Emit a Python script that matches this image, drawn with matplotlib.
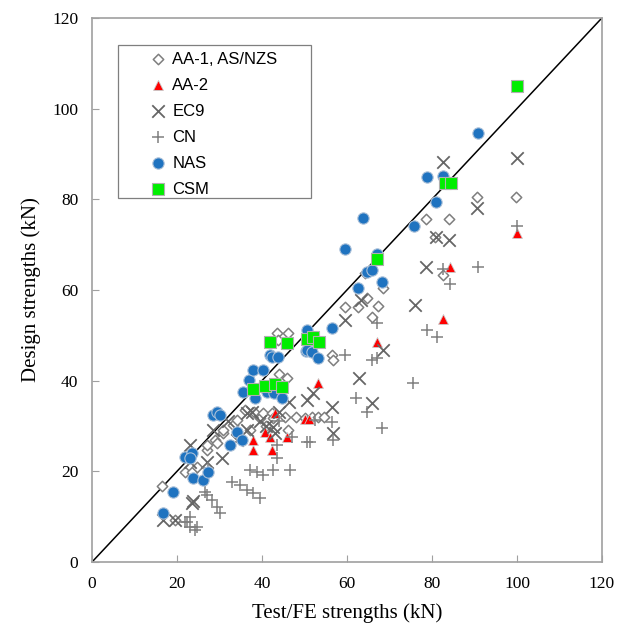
import matplotlib.pyplot as plt
from matplotlib.patches import Rectangle

# Data (Test/FE strength, design strength), kN
aa1_x = [16.5, 19.5, 21.9, 23.5, 24.7, 27.0, 27.0, 28.9, 29.4, 30.8, 30.8, 33.1, 34.1, 36.0,
         37.1, 38.0, 39.5, 40.3, 41.0, 42.4, 42.6, 43.5, 43.8, 44.0, 45.4, 45.8, 46.0, 46.0,
         48.0, 50.0, 51.8, 53.2, 54.7, 56.4, 56.7, 59.5, 62.6, 64.2, 64.6, 66.0, 67.2, 68.4,
         78.7, 80.7, 82.5, 84.0, 90.5, 99.7, 100.0]
aa1_y = [16.8, 9.3, 19.9, 19.9, 21.0, 24.7, 25.8, 26.9, 26.3, 28.5, 29.1, 30.2, 31.3, 33.5,
         29.1, 33.0, 31.8, 32.9, 30.0, 32.9, 31.8, 50.5, 49.0, 41.5, 32.0, 40.6, 29.1, 50.6,
         32.0, 31.8, 32.0, 32.0, 32.0, 45.7, 44.6, 56.3, 56.3, 63.8, 58.3, 54.1, 56.5, 60.5,
         75.7, 71.7, 63.4, 75.7, 80.5, 80.5, 105.0]

aa2_x = [37.9, 37.9, 40.7, 41.9, 42.4, 43.0, 45.8, 50.0, 51.0, 53.2, 67.0, 82.6, 84.2, 100.0]
aa2_y = [24.7, 26.9, 28.7, 27.6, 24.7, 32.9, 27.6, 31.5, 31.5, 39.5, 48.5, 53.6, 65.1, 72.6]

ec9_x = [16.7, 19.5, 23.0, 23.0, 23.5, 23.8, 27.0, 28.5, 30.5, 32.0, 34.1, 36.4, 36.4, 37.6,
         39.5, 41.0, 42.5, 43.0, 44.0, 46.4, 50.7, 51.9, 56.4, 56.6, 59.5, 62.9, 63.4, 66.0,
         68.4, 75.9, 78.7, 81.0, 82.5, 84.0, 90.7, 100.0]
ec9_y = [9.3, 9.3, 25.8, 22.0, 13.0, 13.5, 22.0, 29.1, 23.0, 31.0, 26.9, 29.1, 32.9, 33.1,
         31.0, 30.0, 29.8, 28.5, 33.0, 35.3, 35.8, 37.3, 34.2, 28.5, 53.4, 40.6, 57.8, 35.1,
         46.8, 56.7, 65.1, 71.7, 88.3, 71.0, 78.0, 89.1]

cn_x = [21.9, 22.3, 23.0, 23.0, 24.2, 24.7, 26.6, 27.0, 27.3, 28.2, 29.4, 30.1, 32.9, 34.8,
        36.4, 37.8, 39.5, 37.1, 38.7, 40.2, 42.5, 43.5, 43.5, 44.0, 46.5, 47.0, 50.5, 51.2,
        52.5, 56.4, 56.6, 59.5, 62.2, 64.6, 66.0, 67.0, 67.0, 68.2, 75.5, 78.8, 81.2, 82.5,
        84.2, 90.8, 100.0]
cn_y = [8.8, 8.8, 9.9, 7.7, 7.1, 7.7, 15.5, 14.8, 20.8, 13.7, 12.1, 10.8, 17.7, 17.0,
        15.9, 15.2, 14.1, 20.3, 19.9, 19.2, 20.3, 23.0, 25.8, 31.0, 20.3, 27.5, 26.5, 26.5,
        31.2, 30.9, 26.9, 45.7, 36.2, 33.1, 44.6, 52.8, 45.0, 29.6, 39.5, 51.2, 49.7, 64.7,
        61.4, 65.0, 74.0]

nas_x = [16.7, 19.0, 21.9, 23.5, 23.1, 23.8, 26.1, 27.3, 28.5, 29.4, 30.1, 32.5, 34.1, 35.3,
         35.5, 36.9, 37.9, 38.3, 40.2, 41.1, 41.9, 42.4, 42.8, 43.8, 44.7, 50.4, 50.6, 50.6,
         51.8, 53.2, 56.4, 59.5, 62.6, 63.8, 64.6, 66.0, 67.0, 68.2, 75.8, 78.8, 80.9, 82.6,
         90.8, 100.0]
nas_y = [10.8, 15.5, 23.2, 24.1, 23.0, 18.5, 18.1, 19.9, 32.5, 33.1, 32.5, 25.8, 28.7, 26.9,
         37.5, 40.2, 42.4, 36.2, 42.4, 37.5, 45.7, 45.3, 37.3, 45.3, 36.2, 46.6, 51.2, 46.8,
         46.4, 45.0, 51.7, 69.1, 60.5, 75.9, 64.0, 64.5, 68.0, 61.8, 74.2, 84.8, 79.5, 85.2,
         94.7, 105.0]

csm_x = [37.9, 40.7, 43.0, 44.7, 41.9, 45.9, 50.6, 52.0, 53.4, 67.0, 83.0, 84.5, 100.0]
csm_y = [38.2, 38.8, 39.3, 38.6, 48.5, 48.3, 49.2, 49.6, 48.5, 66.8, 83.5, 83.5, 105.0]

serif = 'Liberation Serif'
grey = '#7f7f7f'

fig = plt.figure(figsize=(6.18, 6.4), dpi=100)
ax = fig.add_axes([0.149, 0.122, 0.825, 0.850])

ax.plot([0, 120], [0, 120], color='black', lw=1.1, zorder=1)

ax.scatter(aa1_x, aa1_y, marker='D', s=28, facecolors='white', edgecolors=grey,
           linewidths=1.1, label='AA-1, AS/NZS', zorder=2)
ax.scatter(aa2_x, aa2_y, marker='^', s=50, color='#ff0000', edgecolors='#c8c8c8',
           linewidths=0.6, label='AA-2', zorder=3)
ax.scatter(ec9_x, ec9_y, marker='x', s=80, color='#666666', linewidths=1.3,
           label='EC9', zorder=4)
ax.scatter(cn_x, cn_y, marker='+', s=80, color='#808080', linewidths=1.1,
           label='CN', zorder=4)
ax.scatter(nas_x, nas_y, marker='o', s=66, color='#1f73c0', edgecolors='#a9bfd8',
           linewidths=0.8, label='NAS', zorder=5)
ax.scatter(csm_x, csm_y, marker='s', s=65, color='#00ee00', edgecolors='#b0b0b0',
           linewidths=0.8, label='CSM', zorder=6)

ax.set_xlim(0, 120)
ax.set_ylim(0, 120)
ax.set_xticks(range(0, 121, 20))
ax.set_yticks(range(0, 121, 20))
ax.tick_params(direction='in', length=5, color='#a0a0a0', labelsize=12.5, pad=10)
for lab in ax.get_xticklabels() + ax.get_yticklabels():
    lab.set_fontfamily(serif)
for sp in ax.spines.values():
    sp.set_color('#a0a0a0')
    sp.set_linewidth(1.2)

ax.set_xlabel('Test/FE strengths (kN)', fontsize=15, fontfamily=serif, labelpad=8)
ax.set_ylabel('Design strengths (kN)', fontsize=15, fontfamily=serif, labelpad=8)

# legend box drawn separately, entries placed inside it
ax.add_patch(Rectangle((0.051, 0.669), 0.378, 0.281, transform=ax.transAxes,
                       facecolor='white', edgecolor=grey, lw=0.9, zorder=9))
leg = ax.legend(loc='upper left', bbox_to_anchor=(0.108, 0.938), frameon=False,
                prop={'family': 'Liberation Sans', 'size': 12},
                handletextpad=0.2, labelspacing=0.66, borderpad=0, handlelength=1.3,
                borderaxespad=0)
leg.set_zorder(10)

fig.savefig('out.png', dpi=100)
